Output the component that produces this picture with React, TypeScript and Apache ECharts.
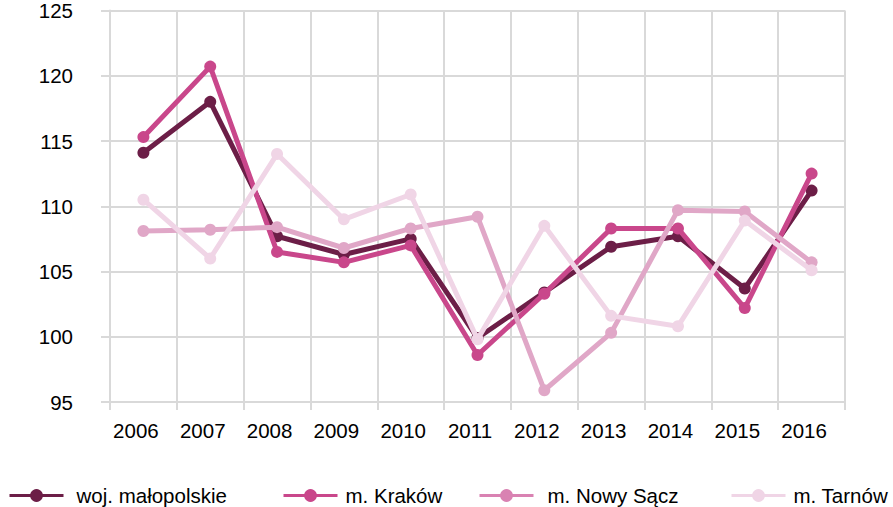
import React, { useEffect, useRef } from "react";
import * as echarts from "echarts";

const years = ["2006", "2007", "2008", "2009", "2010", "2011", "2012", "2013", "2014", "2015", "2016"];
const seriesNames = ["woj. małopolskie", "m. Kraków", "m. Nowy Sącz", "m. Tarnów"];
const malopolskie = [114.1, 118.0, 107.7, 106.3, 107.5, 99.9, 103.4, 106.9, 107.7, 103.7, 111.2];
const krakow = [115.3, 120.7, 106.5, 105.7, 107.0, 98.6, 103.3, 108.3, 108.3, 102.2, 112.5];
const nowySacz = [108.1, 108.2, 108.4, 106.8, 108.3, 109.2, 95.9, 100.3, 109.7, 109.6, 105.7];
const tarnow = [110.5, 106.0, 114.0, 109.0, 110.9, 99.8, 108.5, 101.6, 100.8, 108.9, 105.1];
const colors = ["#6c1e47", "#c9478b", "#e0a7c7", "#f0d5e6"];
const legendColors = ["#6c1e47", "#c9478b", "#d982b2", "#f0d5e6"];
const legendLefts = [8, 282, 478, 730];
const legendTextGaps = [8, 3, 9, 3];

export default function App() {
  const ref = useRef<HTMLDivElement>(null);
  useEffect(() => {
    if (!ref.current) return;
    const chart = echarts.init(ref.current, undefined, { renderer: "svg" });
    const data = [malopolskie, krakow, nowySacz, tarnow];
    const font = "'Liberation Sans', Arial, sans-serif";
    chart.setOption({
      animation: false,
      grid: { left: 110, right: 48, top: 10, bottom: 105, containLabel: false },
      xAxis: {
        type: "category",
        data: years,
        boundaryGap: true,
        axisLine: { show: true, lineStyle: { color: "#d9d9d9", width: 2 } },
        axisTick: { show: true, length: 8, lineStyle: { color: "#d9d9d9", width: 2 } },
        splitLine: { show: true, lineStyle: { color: "#d9d9d9", width: 2 } },
        axisLabel: { color: "#000", fontSize: 20.5, fontFamily: font, margin: 18, padding: [0, 15, 0, 0] },
      },
      yAxis: {
        type: "value",
        min: 95,
        max: 125,
        interval: 5,
        axisLine: { show: true, lineStyle: { color: "#d9d9d9", width: 2 } },
        axisTick: { show: true, length: 9, lineStyle: { color: "#d9d9d9", width: 2 } },
        splitLine: { show: true, lineStyle: { color: "#d9d9d9", width: 2 } },
        axisLabel: { color: "#000", fontSize: 20.5, fontFamily: font, margin: 37 },
      },
      legend: seriesNames.map((name, i) => ({
        data: [{ name, itemStyle: { color: legendColors[i] }, lineStyle: { color: legendColors[i], width: 3 } }],
        left: legendLefts[i],
        top: 485,
        padding: 0,
        itemWidth: 54,
        itemHeight: 16,
        textStyle: { color: "#000", fontSize: 20.5, fontFamily: font, padding: [0, 0, 0, legendTextGaps[i]] },
      })),
      series: seriesNames.map((name, i) => ({
        name,
        type: "line",
        data: data[i],
        symbol: "circle",
        symbolSize: 12,
        lineStyle: { color: colors[i], width: 5 },
        itemStyle: { color: colors[i] },
        z: 2 + i,
      })),
    });
    return () => chart.dispose();
  }, []);
  return <div ref={ref} style={{ width: 893, height: 507, position: "absolute", left: 0, top: 0 }} />;
}
